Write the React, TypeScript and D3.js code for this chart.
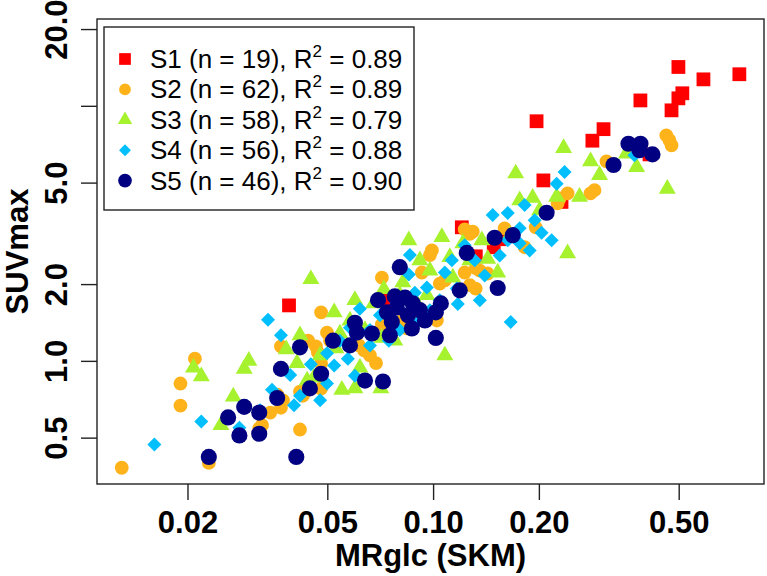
import React, { useEffect, useRef } from 'react';
import * as d3 from 'd3';

// [MRglc, SUVmax] pairs
const S1: [number, number][] = [
    [0.499, 14.2], [0.588, 12.7], [0.744, 13.3], [0.512, 11.2], [0.499, 10.7], [0.477, 9.6],
    [0.389, 10.5], [0.197, 8.7], [0.3055, 8.1], [0.284, 7.3], [0.413, 6.45], [0.206, 5.1],
    [0.232, 4.2], [0.1207, 3.34], [0.1488, 2.79], [0.1323, 2.57], [0.0389, 1.65], [0.072, 1.73],
    [0.1547, 3.0],
];
const S2: [number, number][] = [
    [0.013, 0.381], [0.023, 0.398], [0.0191, 0.815], [0.0191, 0.668], [0.021, 1.02], [0.032, 0.543],
    [0.0344, 0.627], [0.036, 0.737], [0.0369, 0.655], [0.0418, 0.758], [0.0418, 0.538], [0.048, 0.779],
    [0.048, 0.975], [0.048, 1.55], [0.0499, 1.29], [0.0369, 1.14], [0.0441, 1.2], [0.0464, 1.14],
    [0.0688, 0.98], [0.0615, 1.15], [0.0636, 1.1], [0.0715, 2.12], [0.0929, 2.22], [0.0853, 1.5],
    [0.0842, 1.34], [0.0753, 1.36], [0.0715, 1.39], [0.1025, 1.44], [0.0992, 2.71], [0.1045, 2.01],
    [0.123, 2.22], [0.1322, 1.92], [0.123, 3.28], [0.1297, 3.21], [0.1959, 3.34], [0.1822, 2.79],
    [0.1598, 3.31], [0.143, 2.2], [0.461, 7.66], [0.477, 7.0], [0.3115, 6.06], [0.2414, 4.54],
    [0.2806, 4.54], [0.2261, 4.15], [0.1322, 2.31], [0.0729, 1.44], [0.0804, 1.42], [0.087, 1.42],
    [0.0509, 1.2], [0.047, 1.08], [0.0426, 0.73], [0.0374, 0.7], [0.0326, 0.56], [0.0661, 1.05],
    [0.0979, 2.6], [0.1272, 3.15], [0.1358, 2.26], [0.108, 2.07], [0.1272, 1.98], [0.2291, 4.33],
    [0.288, 4.67], [0.4705, 7.33],
];
const S3: [number, number][] = [
    [0.0208, 0.94], [0.0219, 0.87], [0.0249, 0.56], [0.027, 0.725], [0.0299, 1.0], [0.029, 0.93],
    [0.0449, 2.09], [0.0853, 2.97], [0.0382, 1.11], [0.041, 0.98], [0.0438, 0.837], [0.0458, 0.86],
    [0.0523, 1.55], [0.0543, 1.28], [0.0529, 1.12], [0.055, 0.77], [0.0599, 0.78], [0.071, 0.78],
    [0.0619, 0.94], [0.0678, 1.68], [0.0715, 1.23], [0.0724, 1.91], [0.355, 6.5], [0.3795, 5.75],
    [0.2806, 6.06], [0.2352, 6.83], [0.464, 4.73], [0.1718, 5.43], [0.2611, 4.4], [0.2247, 4.4],
    [0.192, 4.36], [0.2414, 2.64], [0.1059, 3.06], [0.1376, 2.97], [0.1215, 2.89], [0.143, 2.51],
    [0.1527, 2.22], [0.1138, 2.12], [0.096, 1.81], [0.108, 1.05], [0.082, 2.03], [0.1116, 2.55],
    [0.058, 1.44], [0.064, 1.32], [0.0778, 1.58], [0.0887, 1.73], [0.0917, 2.48], [0.1272, 2.48],
    [0.1652, 3.11], [0.201, 3.89], [0.1764, 4.26], [0.2976, 5.35], [0.0599, 1.73], [0.0477, 1.05],
    [0.0418, 1.26], [0.0804, 1.81], [0.0778, 1.2], [0.0979, 2.26],
];
const S4: [number, number][] = [
    [0.0161, 0.47], [0.0219, 0.578], [0.0281, 0.547], [0.0339, 1.45], [0.0369, 1.26], [0.0348, 0.77],
    [0.0402, 0.67], [0.0449, 0.97], [0.0499, 0.815], [0.0499, 1.07], [0.0523, 0.96], [0.0572, 1.02],
    [0.058, 1.35], [0.0619, 1.6], [0.0748, 1.2], [0.0853, 2.18], [0.0887, 1.85], [0.1131, 2.48],
    [0.108, 2.22], [0.1168, 1.92], [0.1176, 1.67], [0.096, 1.94], [0.1478, 3.73], [0.1631, 3.8],
    [0.1822, 4.08], [0.2174, 2.97], [0.2036, 3.18], [0.1631, 2.97], [0.1547, 2.59], [0.3741, 6.4],
    [0.2367, 5.5], [0.2247, 4.95], [0.1764, 2.89], [0.1663, 1.42], [0.0661, 1.32], [0.0706, 1.51],
    [0.0778, 1.73], [0.0804, 1.32], [0.0543, 1.2], [0.0599, 0.875], [0.0477, 0.7], [0.0418, 0.73],
    [0.0979, 1.58], [0.123, 2.84], [0.1314, 2.48], [0.1402, 2.16], [0.1764, 3.31], [0.1946, 3.56],
    [0.1358, 1.73], [0.1045, 1.73], [0.0661, 1.15], [0.0917, 1.44], [0.0322, 0.64], [0.0392, 0.88],
    [0.1883, 2.71], [0.0859, 2.6],
];
const S5: [number, number][] = [
    [0.023, 0.42], [0.0408, 0.42], [0.0261, 0.6], [0.0281, 0.51], [0.029, 0.66], [0.032, 0.627],
    [0.032, 0.518], [0.0418, 1.13], [0.0369, 0.93], [0.036, 0.715], [0.0446, 0.78], [0.048, 0.89],
    [0.0519, 1.2], [0.064, 0.837], [0.072, 0.83], [0.0599, 1.41], [0.0607, 1.29], [0.067, 1.28],
    [0.0804, 2.33], [0.0788, 1.62], [0.087, 1.34], [0.0739, 1.55], [0.0876, 1.68], [0.0832, 1.77],
    [0.1052, 1.68], [0.1018, 1.55], [0.1018, 1.23], [0.1247, 2.65], [0.2104, 3.81], [0.1497, 3.04],
    [0.1685, 3.11], [0.1527, 1.93], [0.3598, 7.1], [0.3892, 7.1], [0.421, 6.45], [0.3262, 5.86],
    [0.0763, 1.42], [0.0778, 1.79], [0.0917, 1.58], [0.0848, 1.51], [0.0697, 1.73], [0.0948, 1.44],
    [0.0753, 1.26], [0.058, 1.15], [0.1191, 1.89], [0.3867, 6.7],
];

const seriesNames = ['S1', 'S2', 'S3', 'S4', 'S5'];
const seriesN = [19, 62, 58, 56, 46];
const seriesR2 = ['0.89', '0.89', '0.79', '0.88', '0.90'];
const colors = ['#ff0000', '#ffb31a', '#a6f22e', '#00bfff', '#000080'];

const xTicks = [0.02, 0.05, 0.1, 0.2, 0.5];
const xTickLabels = ['0.02', '0.05', '0.10', '0.20', '0.50'];
const yTicks = [0.5, 1, 2, 5, 10, 20];
const yTickLabels = ['0.5', '1.0', '2.0', '5.0', '', '20.0'];

const width = 767;
const height = 576;

// marker path per series: square, circle, triangle, diamond, big circle
function markerPath(i: number): string {
    if (i === 0) return d3.symbol(d3.symbolSquare, 190)() as string;
    if (i === 1) return d3.symbol(d3.symbolCircle, 150)() as string;
    if (i === 2) return d3.symbol(d3.symbolTriangle, 125)() as string;
    if (i === 3) return 'M0,-7L7,0L0,7L-7,0Z';
    return d3.symbol(d3.symbolCircle, 205)() as string;
}

const ScatterChart = () => {
    const svgRef = useRef<SVGSVGElement>(null);

    useEffect(() => {
        const svg = d3.select(svgRef.current);
        svg.selectAll('*').remove();

        const left = 97, right = 764, top = 19, bottom = 484;
        const font = '"Liberation Sans", Arial, Helvetica, sans-serif';

        const xScale = d3.scaleLog().domain([0.011054, 0.8744]).range([left, right]);
        const yScale = d3.scaleLog().domain([0.329, 21.9]).range([bottom, top]);

        svg.append('rect')
            .attr('width', width)
            .attr('height', height)
            .attr('fill', '#fff');

        // points
        const allSeries = [S1, S2, S3, S4, S5];
        allSeries.forEach((data, i) => {
            svg.append('g')
                .selectAll('path')
                .data(data)
                .enter()
                .append('path')
                .attr('d', markerPath(i))
                .attr('transform', d => `translate(${xScale(d[0])},${yScale(d[1])})`)
                .attr('fill', colors[i]);
        });

        // frame
        svg.append('rect')
            .attr('x', left)
            .attr('y', top)
            .attr('width', right - left)
            .attr('height', bottom - top)
            .attr('fill', 'none')
            .attr('stroke', '#222')
            .attr('stroke-width', 1.4);

        // x axis
        const xAxis = d3.axisBottom(xScale)
            .tickValues(xTicks)
            .tickFormat((d, i) => xTickLabels[i])
            .tickSize(16)
            .tickPadding(11);
        const gx = svg.append('g')
            .attr('transform', `translate(0,${bottom})`)
            .call(xAxis);
        gx.select('.domain').remove();
        gx.selectAll('line').attr('stroke', '#222').attr('stroke-width', 1.4);
        gx.selectAll('text')
            .attr('font-family', font)
            .attr('font-weight', 'bold')
            .attr('font-size', '31px')
            .attr('fill', '#000');

        // y axis, labels rotated
        const yAxis = d3.axisLeft(yScale)
            .tickValues(yTicks)
            .tickFormat((d, i) => yTickLabels[i])
            .tickSize(16)
            .tickPadding(0);
        const gy = svg.append('g')
            .attr('transform', `translate(${left},0)`)
            .call(yAxis);
        gy.select('.domain').remove();
        gy.selectAll('line').attr('stroke', '#222').attr('stroke-width', 1.4);
        gy.selectAll('text')
            .attr('x', null)
            .attr('dy', null)
            .attr('transform', 'translate(-30,0) rotate(-90)')
            .attr('text-anchor', 'middle')
            .attr('font-family', font)
            .attr('font-weight', 'bold')
            .attr('font-size', '31px')
            .attr('fill', '#000');

        // axis titles
        svg.append('text')
            .attr('x', (left + right) / 2)
            .attr('y', 566)
            .attr('text-anchor', 'middle')
            .attr('font-family', font)
            .attr('font-weight', 'bold')
            .attr('font-size', '31px')
            .text('MRglc (SKM)');

        svg.append('text')
            .attr('transform', `translate(28,${(top + bottom) / 2}) rotate(-90)`)
            .attr('text-anchor', 'middle')
            .attr('font-family', font)
            .attr('font-weight', 'bold')
            .attr('font-size', '31px')
            .text('SUVmax');

        // legend
        const legend = svg.append('g');
        legend.append('rect')
            .attr('x', 104)
            .attr('y', 27)
            .attr('width', 310)
            .attr('height', 183)
            .attr('fill', '#fff')
            .attr('stroke', '#222')
            .attr('stroke-width', 1.4);

        seriesNames.forEach((name, i) => {
            const cy = 59 + i * 30.4;
            legend.append('path')
                .attr('d', markerPath(i))
                .attr('transform', `translate(125,${cy}) scale(0.85)`)
                .attr('fill', colors[i]);
            const t = legend.append('text')
                .attr('x', 150)
                .attr('y', cy + 9)
                .attr('font-family', font)
                .attr('font-size', '26px')
                .attr('fill', '#000');
            t.append('tspan').text(`${name} (n = ${seriesN[i]}), R`);
            t.append('tspan').attr('dy', -11).attr('font-size', '17px').text('2');
            t.append('tspan').attr('dy', 11).text(` = ${seriesR2[i]}`);
        });
    }, []);

    return <svg ref={svgRef} width={width} height={height} style={{ position: 'absolute', left: 0, top: 0 }} />;
};

export default function App() {
    return <ScatterChart />;
}
